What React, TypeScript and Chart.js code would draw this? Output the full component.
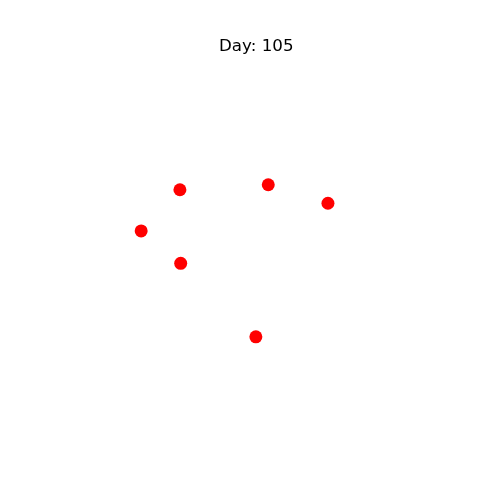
import React, { useEffect, useRef } from "react";
import { Chart, registerables } from "chart.js";

Chart.register(...registerables);

const titleText = "Day: 105";
const xValues = [3.03, 5.31, 6.85, 2.03, 3.05, 4.99];
const yValues = [6.63, 6.76, 6.28, 5.56, 4.72, 2.81];

export default function App() {
  const ref = useRef<HTMLCanvasElement | null>(null);
  useEffect(() => {
    document.body.style.margin = "0";
    if (!ref.current) return;
    const chart = new Chart(ref.current, {
      type: "scatter",
      data: {
        datasets: [
          {
            data: xValues.map((x, i) => ({ x, y: yValues[i] })),
            backgroundColor: "#ff0000",
            borderWidth: 0,
            pointRadius: 6.5,
            pointHoverRadius: 6.5,
          },
        ],
      },
      options: {
        animation: false,
        responsive: false,
        events: [],
        layout: { padding: { left: 62.5, right: 50, top: 0, bottom: 55 } },
        plugins: {
          legend: { display: false },
          tooltip: { enabled: false },
          title: {
            display: true,
            text: titleText,
            color: "#000000",
            font: { family: "DejaVu Sans", size: 16.7, weight: "normal", lineHeight: 1.2 },
            padding: { top: 37, bottom: 3 },
          },
        },
        scales: {
          x: { type: "linear", min: 0, max: 10, display: false },
          y: { type: "linear", min: 0, max: 10, display: false },
        },
      },
    });
    return () => chart.destroy();
  }, []);
  return (
    <div style={{ width: 500, height: 500, background: "#ffffff" }}>
      <canvas ref={ref} width={500} height={500} style={{ display: "block" }} />
    </div>
  );
}
